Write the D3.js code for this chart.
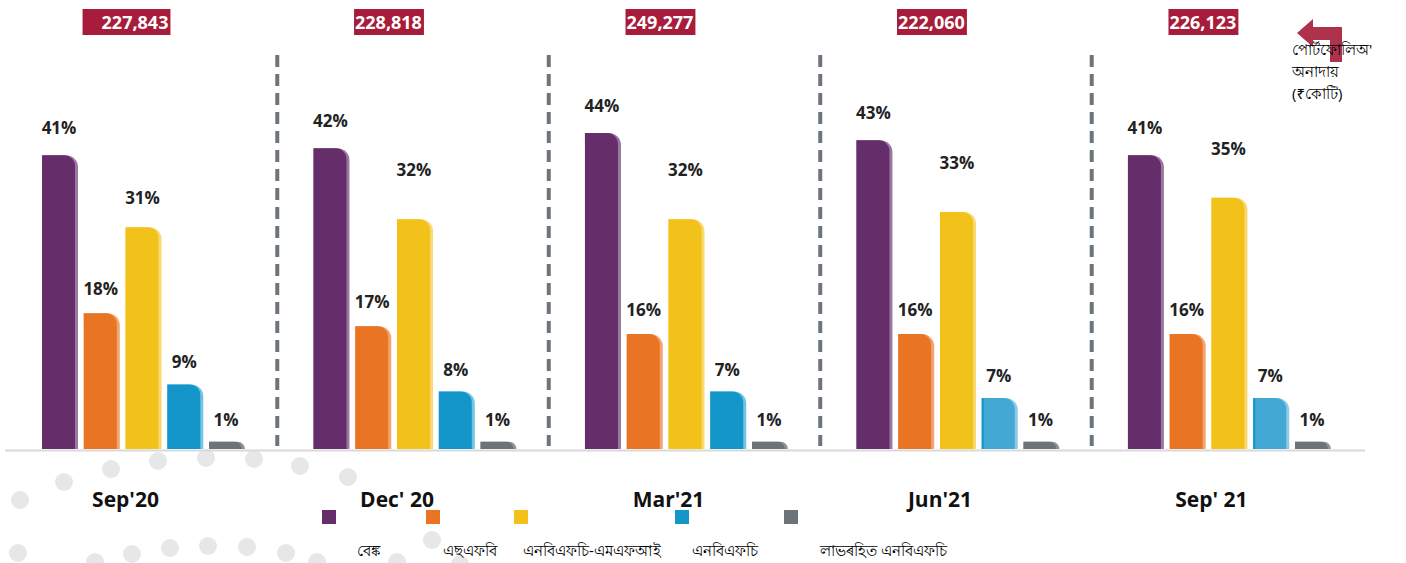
<!DOCTYPE html>
<html>
<head>
<meta charset="utf-8">
<script src="https://cdn.jsdelivr.net/npm/d3@7"></script>
<style>
  body { margin: 0; background: #fff; }
  text { font-family: "Open Sans", "Noto Sans", sans-serif; }
</style>
</head>
<body>
<div id="chart"></div>
<script>
// quarters and portfolio outstanding (₹ crore)
const quarters = ["Sep'20", "Dec' 20", "Mar'21", "Jun'21", "Sep' 21"];
const totals = ["227,843", "228,818", "249,277", "222,060", "226,123"];

// lender types (legend)
const lenders = ["বেঙ্ক", "এছএফবি", "এনবিএফচি-এমএফআই", "এনবিএফচি", "লাভৰহিত  এনবিএফচি"];

// share of portfolio, % (bar heights)
const bankShare  = [40.9, 41.9, 44.0, 43.0, 40.9];
const sfbShare   = [18.9, 17.1, 16.0, 16.0, 16.0];
const mfiShare   = [30.9, 32.0, 32.0, 33.0, 35.0];
const nbfcShare  = [9.0, 8.0, 8.0, 7.1, 7.1];
const npShare    = [1.0, 1.0, 1.0, 1.0, 1.0];

// labels as printed
const bankLabel = ["41%", "42%", "44%", "43%", "41%"];
const sfbLabel  = ["18%", "17%", "16%", "16%", "16%"];
const mfiLabel  = ["31%", "32%", "32%", "33%", "35%"];
const nbfcLabel = ["9%", "8%", "7%", "7%", "7%"];
const npLabel   = ["1%", "1%", "1%", "1%", "1%"];

const series = [bankShare, sfbShare, mfiShare, nbfcShare, npShare];
const seriesLabels = [bankLabel, sfbLabel, mfiLabel, nbfcLabel, npLabel];

const colors = ["#652d69", "#e87424", "#f2c21b", "#1496cb", "#6c737a"];
const lightColors = ["#9a78a0", "#f2a571", "#f8d870", "#72c3e6", "#8e949a"];

const width = 1406, height = 563;
const baseY = 449;

const svg = d3.select("#chart").append("svg")
  .attr("width", width)
  .attr("height", height)
  .style("display", "block");

// decorative dots behind the lower-left corner
const dots = [
  [20, 500], [64, 482], [111, 469], [158, 461], [206, 458], [254, 459], [300, 466], [348, 477],
  [18, 553], [95, 562], [132, 554], [170, 548], [208, 546], [247, 547], [286, 553],
  [317, 562], [397, 562], [432, 540], [460, 564]
];
svg.append("g").selectAll("circle")
  .data(dots)
  .enter().append("circle")
  .attr("cx", d => d[0])
  .attr("cy", d => d[1])
  .attr("r", 9)
  .attr("fill", "#e6e7e8");

// scales
const x = d3.scaleBand()
  .domain(quarters)
  .range([42, 1331])
  .paddingInner(0.252);

const xi = d3.scaleBand()
  .domain(d3.range(series.length))
  .range([0, x.bandwidth()])
  .paddingInner(0.138);

const y = d3.scaleLinear()
  .domain([0, 50])
  .range([baseY, baseY - 359]);

// bar with rounded top-right corner
function barPath(x0, y0, w, h, r) {
  r = Math.min(r, h, w);
  return "M" + x0 + "," + (y0 + h) +
    "V" + y0 +
    "H" + (x0 + w - r) +
    "A" + r + "," + r + " 0 0 1 " + (x0 + w) + "," + (y0 + r) +
    "V" + (y0 + h) + "Z";
}

// axis baseline
svg.append("line")
  .attr("x1", 5).attr("x2", 1365)
  .attr("y1", baseY + 1.5).attr("y2", baseY + 1.5)
  .attr("stroke", "#d9d9d9")
  .attr("stroke-width", 2);

// dashed separators between quarters
const seps = quarters.slice(1).map((q, i) => (x(quarters[i]) + x.bandwidth() + x(q)) / 2 - 2);
svg.selectAll(".sep")
  .data(seps)
  .enter().append("line")
  .attr("class", "sep")
  .attr("x1", d => d).attr("x2", d => d)
  .attr("y1", 55).attr("y2", 446)
  .attr("stroke", "#6d757c")
  .attr("stroke-width", 4)
  .attr("stroke-dasharray", "12,7");

// bars
const groups = svg.selectAll(".quarter")
  .data(quarters)
  .enter().append("g")
  .attr("class", "quarter")
  .attr("transform", d => "translate(" + x(d) + ",0)");

groups.each(function(q, qi) {
  const g = d3.select(this);
  series.forEach(function(s, si) {
    const v = s[qi];
    const bx = xi(si);
    const bw = xi.bandwidth();
    const by = y(v);
    const bh = baseY - by;
    let main = colors[si];
    let light = lightColors[si];
    if (si === 3 && qi >= 3) { main = "#43a8d4"; light = "#8ccbe8"; }
    g.append("path")
      .attr("d", barPath(bx, by, bw, bh, 12))
      .attr("fill", light);
    g.append("path")
      .attr("d", barPath(bx, by, bw - 3, bh, 11))
      .attr("fill", main);
    if (si === 3 && qi >= 3) {
      g.append("rect")
        .attr("x", bx).attr("y", by)
        .attr("width", 2).attr("height", bh)
        .attr("fill", "#1496cb");
    }
    // label lift above the bar top
    let lift = si === 0 ? 21 : (si >= 3 ? 16 : 18);
    if (si === 2) lift = qi === 0 ? 23 : 43;
    g.append("text")
      .attr("x", bx + bw / 2 - 1)
      .attr("y", by - lift)
      .attr("text-anchor", "middle")
      .attr("font-size", 17)
      .attr("font-weight", 700)
      .attr("fill", "#222")
      .text(seriesLabels[si][qi]);
  });

  // total box
  const cx = qi === 0 ? 135 - x(q) : 75;
  const t = g.append("text")
    .attr("x", cx)
    .attr("y", 29)
    .attr("text-anchor", "middle")
    .attr("font-size", 18)
    .attr("font-weight", 700)
    .attr("fill", "#fff")
    .text(totals[qi]);
  const bb = t.node().getBBox();
  const padL = qi === 0 ? 19 : 1;
  g.insert("rect", function() { return t.node(); })
    .attr("x", bb.x - padL)
    .attr("y", 9)
    .attr("width", bb.width + padL + 2)
    .attr("height", 26)
    .attr("fill", "#a61c3a");

  // quarter label
  g.append("text")
    .attr("x", x.bandwidth() / 2 - 18)
    .attr("y", 507)
    .attr("text-anchor", "middle")
    .attr("font-size", 21)
    .attr("font-weight", 700)
    .attr("fill", "#111")
    .text(q);
});

// legend
const legendSquareX = [322, 426, 514, 675, 784];
const legendTextX = [357, 443, 523, 692, 820];
const legend = svg.append("g");
legend.selectAll("rect")
  .data(lenders)
  .enter().append("rect")
  .attr("x", (d, i) => legendSquareX[i])
  .attr("y", 510)
  .attr("width", 14)
  .attr("height", 14)
  .attr("fill", (d, i) => colors[i]);
legend.selectAll("text")
  .data(lenders)
  .enter().append("text")
  .attr("x", (d, i) => legendTextX[i])
  .attr("y", 556)
  .attr("font-size", 15)
  .attr("fill", "#000")
  .text(d => d);

// arrow icon and unit note, top right
svg.append("path")
  .attr("d", "M1297,33 L1313,19 L1313,27 L1342,27 L1342,62 L1330,62 L1330,40 L1313,40 L1313,47 Z")
  .attr("fill", "#a61c3a")
  .attr("opacity", 0.9);

const note = ["পোর্টফোলিঅ'", "অনাদায়", "(₹কোটি)"];
svg.append("g").selectAll("text")
  .data(note)
  .enter().append("text")
  .attr("x", 1292)
  .attr("y", (d, i) => 55 + i * 22)
  .attr("font-size", 15)
  .attr("fill", "#000")
  .text(d => d);
</script>
</body>
</html>
